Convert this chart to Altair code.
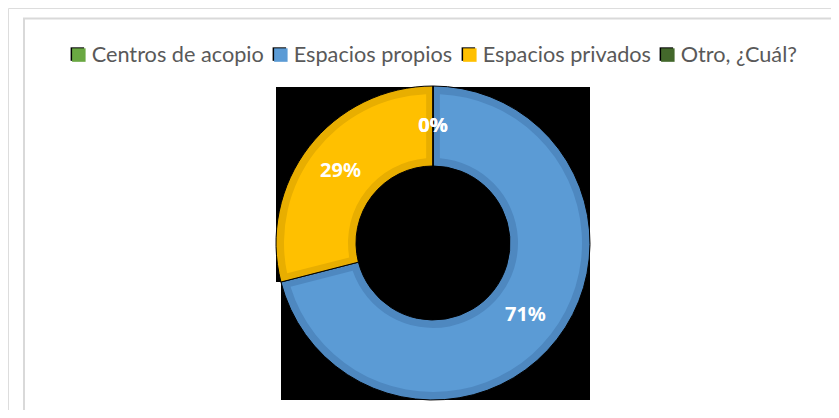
import altair as alt
import pandas as pd

categories = ["Centros de acopio", "Espacios propios", "Espacios privados", "Otro, ¿Cuál?"]
values = [0, 71, 29, 0]
labels = ["0%", "71%", "29%", "0%"]
slice_order = [0, 1, 2, 3]
colors = ["#6AA842", "#5B9BD5", "#FFC000", "#43682B"]
dark_colors = ["#5E9A3A", "#4E88C0", "#E8AE00", "#3A5C25"]
shadow_colors = ["black", "black", "black", "black"]

df = pd.DataFrame({"cat": categories, "val": values, "label": labels, "order": slice_order})
one = pd.DataFrame({"a": [0]})

W, H = 823, 402
CX, CY = 425, 235
LX, LY = 60, 36


def legend_cfg(dx, dy, show_labels):
    return alt.Legend(
        orient="none",
        legendX=LX + dx,
        legendY=LY + dy,
        direction="horizontal",
        title=None,
        symbolType="square",
        symbolSize=182,
        symbolStrokeWidth=0,
        symbolOpacity=1,
        labelFont="Lato",
        labelFontSize=21.7,
        labelLimit=400,
        labelColor="#595959",
        labelOpacity=1 if show_labels else 0,
        labelOffset=2,
        columnPadding=6,
        padding=0,
    )


frame = alt.Chart(one).mark_rect(fillOpacity=0, stroke="#D9D9D9", strokeWidth=2).encode(
    x=alt.value(16), x2=alt.value(1000), y=alt.value(10.5), y2=alt.value(1000)
)
bg1 = alt.Chart(one).mark_rect(color="black").encode(
    x=alt.value(268), x2=alt.value(426), y=alt.value(79), y2=alt.value(274)
)
bg2 = alt.Chart(one).mark_rect(color="black").encode(
    x=alt.value(273), x2=alt.value(582), y=alt.value(79), y2=alt.value(392)
)

base = alt.Chart(df).encode(
    theta=alt.Theta("val:Q", stack=True),
    order=alt.Order("order:Q"),
    x=alt.value(CX),
    y=alt.value(CY),
)

shadow = base.mark_arc(radius=10, opacity=0).encode(
    color=alt.Color("cat:N", scale=alt.Scale(domain=categories, range=shadow_colors),
                    legend=legend_cfg(-1.5, -1, False))
)

dark = base.mark_arc(radius=157, radius2=77, stroke="black", strokeWidth=1).encode(
    fill=alt.Fill("cat:N", scale=alt.Scale(domain=categories, range=dark_colors), legend=None)
)

light = base.mark_arc(radius=149, radius2=85, padAngle=0.08).encode(
    fill=alt.Fill("cat:N", scale=alt.Scale(domain=categories, range=colors),
                  legend=legend_cfg(0, 0, True))
)

text = base.mark_text(radius=117, font="Noto Sans", fontWeight="bold", fontSize=20, color="white").encode(
    text="label:N"
)

chart = (
    alt.layer(frame, bg1, bg2, shadow, dark, light, text)
    .resolve_scale(color="independent", fill="independent")
    .properties(width=W, height=H, padding=0, autosize=alt.AutoSizeParams(type="none"))
    .configure_view(stroke=None)
    .configure(background="white")
)

chart.save("out.html", embed_options={"renderer": "svg", "actions": False})
